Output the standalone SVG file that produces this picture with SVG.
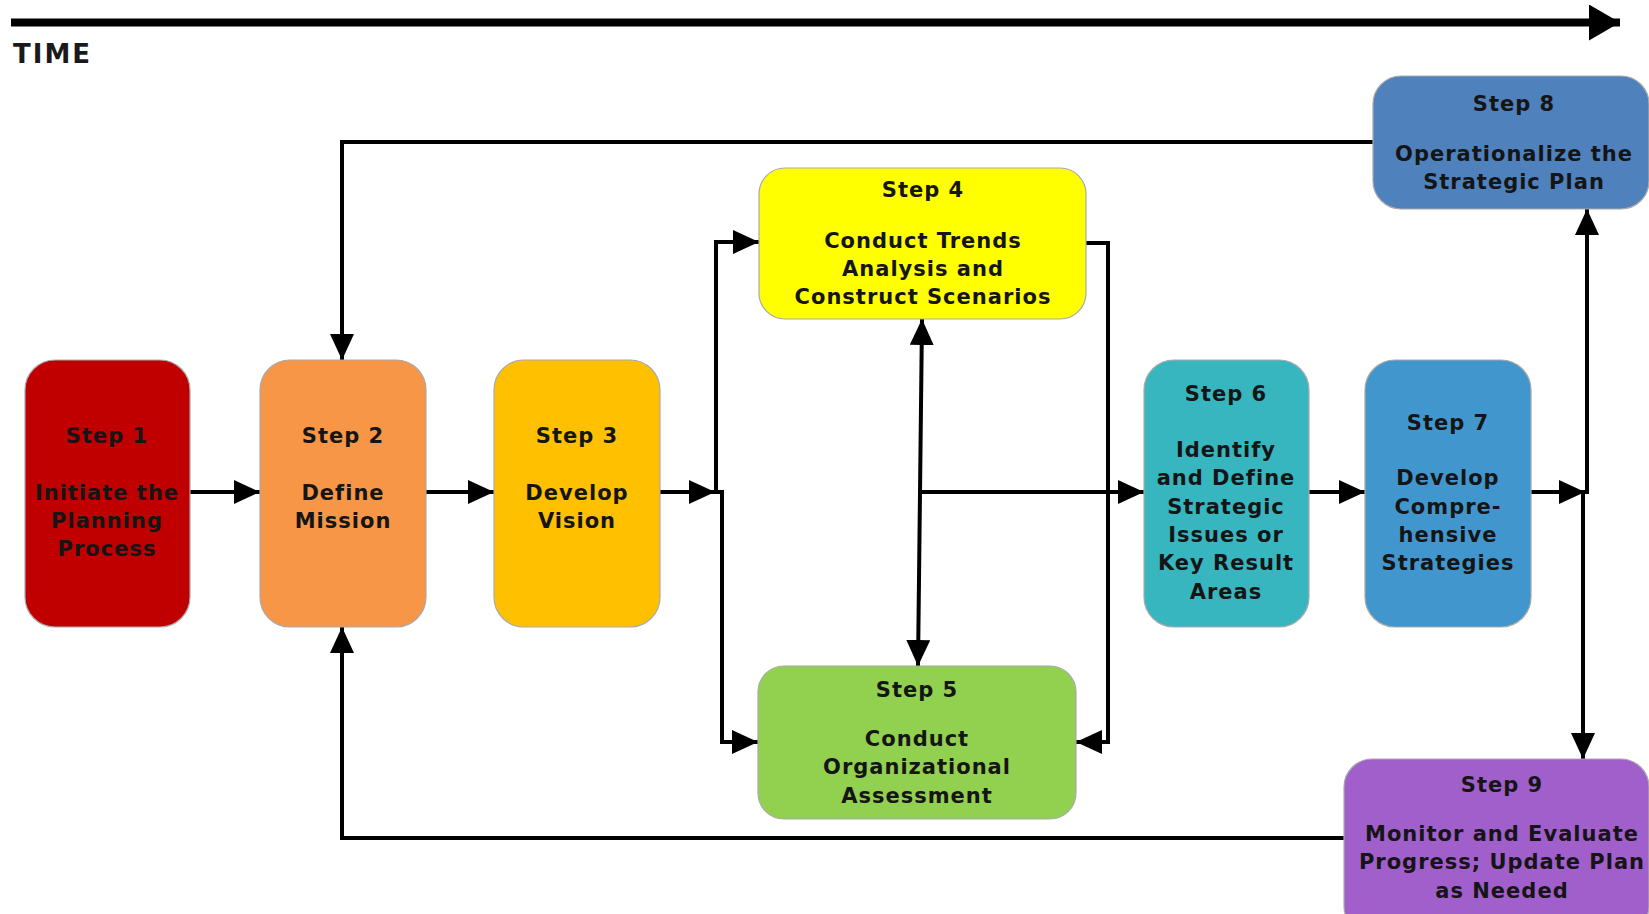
<svg xmlns="http://www.w3.org/2000/svg" width="1649" height="914" viewBox="0 0 1649 914">
<defs>
<marker id="ah" markerUnits="userSpaceOnUse" markerWidth="26" markerHeight="24" refX="26" refY="12" orient="auto-start-reverse" viewBox="0 0 26 24">
<path d="M0,0 L26,12 L0,24 Z" fill="#000"/>
</marker>
<marker id="big" markerUnits="userSpaceOnUse" markerWidth="31" markerHeight="36" refX="31" refY="18" orient="auto" viewBox="0 0 31 36">
<path d="M0,0 L31,18 L0,36 Z" fill="#000"/>
</marker>
</defs>
<style>
.box{stroke:#a9a9a9;stroke-width:1.2}
.t{font-family:"DejaVu Sans","Verdana",sans-serif;font-weight:bold;font-size:21px;letter-spacing:1px;fill:#151515;text-anchor:middle}
.c{fill:none;stroke:#000;stroke-width:4}
.a{marker-end:url(#ah)}
</style>
<rect width="1649" height="914" fill="#fff"/>
<g id="time">
<line x1="11" y1="22.5" x2="1620" y2="22.5" stroke="#000" stroke-width="8" marker-end="url(#big)"/>
<text x="13" y="63" font-family="DejaVu Sans, sans-serif" font-weight="bold" font-size="26" letter-spacing="2" fill="#1a1a1a">TIME</text>
</g>
<g id="connectors">
<path class="c a" d="M190,492 H260"/>
<path class="c a" d="M426,492 H494"/>
<path class="c a" d="M660,492 H715"/>
<path class="c a" d="M716,494 V242 H759"/>
<path class="c a" d="M714,492 H722 V742 H758"/>
<path class="c" d="M922,319 L918,666" marker-start="url(#ah)" marker-end="url(#ah)"/>
<path class="c a" d="M920,492 H1144"/>
<path class="c a" d="M1086,243 H1108 V742 H1076"/>
<path class="c a" d="M1309,492 H1365"/>
<path class="c a" d="M1531,492 H1585"/>
<path class="c a" d="M1581,492 H1587 V209"/>
<path class="c a" d="M1583,490 V759"/>
<path class="c a" d="M1373,142 H342 V360"/>
<path class="c a" d="M1344,838 H342 V627"/>
</g>
<g id="step1">
<rect class="box" x="25" y="360" width="165" height="267" rx="30" fill="#C00000"/>
<text class="t"><tspan x="107" y="443">Step 1</tspan><tspan x="107" y="499.6">Initiate the</tspan><tspan x="107" y="527.9">Planning</tspan><tspan x="107" y="556.2">Process</tspan></text>
</g>
<g id="step2">
<rect class="box" x="260" y="360" width="166" height="267" rx="30" fill="#F79646"/>
<text class="t"><tspan x="343" y="443">Step 2</tspan><tspan x="343" y="499.6">Define</tspan><tspan x="343" y="527.9">Mission</tspan></text>
</g>
<g id="step3">
<rect class="box" x="494" y="360" width="166" height="267" rx="30" fill="#FFC000"/>
<text class="t"><tspan x="577" y="443">Step 3</tspan><tspan x="577" y="499.6">Develop</tspan><tspan x="577" y="527.9">Vision</tspan></text>
</g>
<g id="step4">
<rect class="box" x="759" y="168" width="327" height="151" rx="26" fill="#FFFF00"/>
<text class="t"><tspan x="923" y="197">Step 4</tspan><tspan x="923" y="247.6">Conduct Trends</tspan><tspan x="923" y="275.9">Analysis and</tspan><tspan x="923" y="304.2">Construct Scenarios</tspan></text>
</g>
<g id="step5">
<rect class="box" x="758" y="666" width="318" height="153" rx="26" fill="#92D050"/>
<text class="t"><tspan x="917" y="697">Step 5</tspan><tspan x="917" y="746">Conduct</tspan><tspan x="917" y="774.3">Organizational</tspan><tspan x="917" y="802.6">Assessment</tspan></text>
</g>
<g id="step6">
<rect class="box" x="1144" y="360" width="165" height="267" rx="30" fill="#38B6BF"/>
<text class="t"><tspan x="1226" y="401">Step 6</tspan><tspan x="1226" y="457">Identify</tspan><tspan x="1226" y="485.3">and Define</tspan><tspan x="1226" y="513.6">Strategic</tspan><tspan x="1226" y="541.9">Issues or</tspan><tspan x="1226" y="570.2">Key Result</tspan><tspan x="1226" y="598.5">Areas</tspan></text>
</g>
<g id="step7">
<rect class="box" x="1365" y="360" width="166" height="267" rx="30" fill="#4197CD"/>
<text class="t"><tspan x="1448" y="430">Step 7</tspan><tspan x="1448" y="485.3">Develop</tspan><tspan x="1448" y="513.6">Compre-</tspan><tspan x="1448" y="541.9">hensive</tspan><tspan x="1448" y="570.2">Strategies</tspan></text>
</g>
<g id="step8">
<rect class="box" x="1373" y="76" width="276" height="133" rx="28" fill="#4F81BD"/>
<text class="t"><tspan x="1514" y="111">Step 8</tspan><tspan x="1514" y="161">Operationalize the</tspan><tspan x="1514" y="189.3">Strategic Plan</tspan></text>
</g>
<g id="step9">
<rect class="box" x="1344" y="759" width="305" height="175" rx="28" fill="#A05FCB"/>
<text class="t"><tspan x="1502" y="792">Step 9</tspan><tspan x="1502" y="841">Monitor and Evaluate</tspan><tspan x="1502" y="869.3">Progress; Update Plan</tspan><tspan x="1502" y="897.6">as Needed</tspan></text>
</g>
</svg>
